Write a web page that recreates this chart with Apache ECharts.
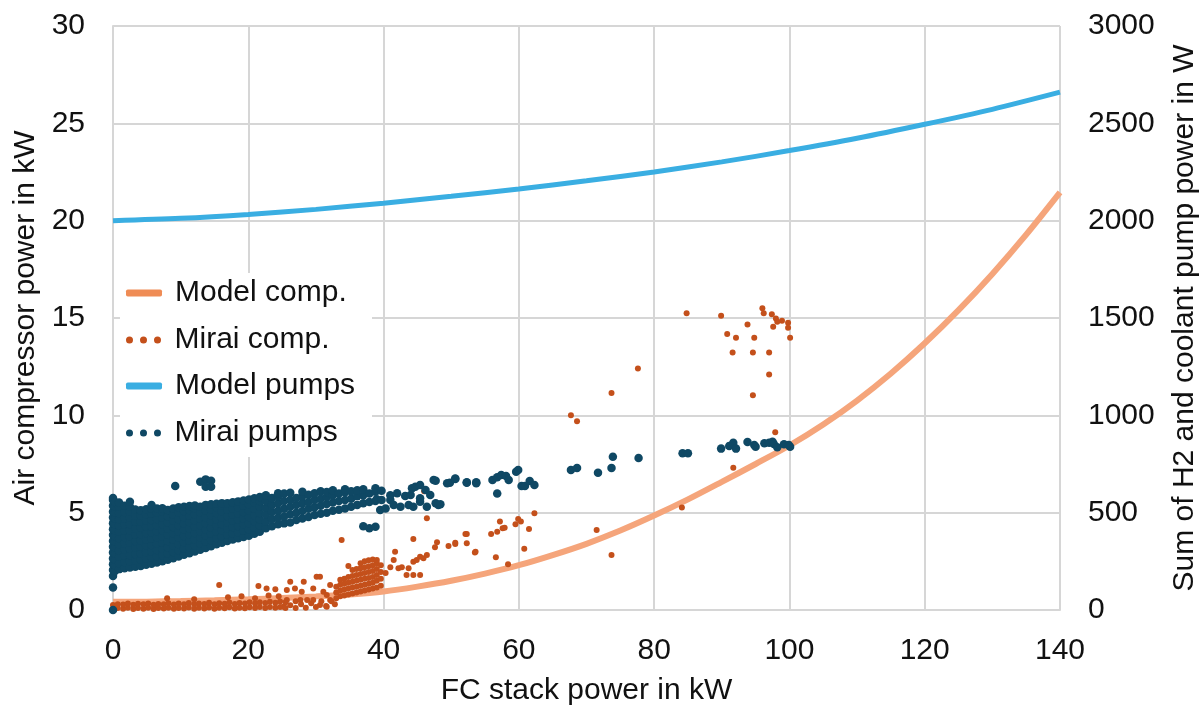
<!DOCTYPE html>
<html>
<head>
<meta charset="utf-8">
<script src="https://cdn.jsdelivr.net/npm/echarts@6/dist/echarts.min.js"></script>
<style>
html,body{margin:0;padding:0;background:#fff;}
#chart{width:1204px;height:709px;}
</style>
</head>
<body>
<div id="chart"></div>
<script>
// ---------- Data ----------
const xTicks = [0, 20, 40, 60, 80, 100, 120, 140];
const legendNames = ['Model comp.', 'Mirai comp.', 'Model pumps', 'Mirai pumps'];

// Model compressor power (kW) vs FC stack power (kW)
const modelCompX = [0, 5, 10, 15, 20, 25, 30, 35, 40, 45, 50, 55, 60, 65, 70, 75, 80, 85, 90, 95, 100, 105, 110, 115, 120, 125, 130, 135, 140];
const modelCompY = [0.42, 0.43, 0.46, 0.5, 0.55, 0.62, 0.7, 0.8, 0.95, 1.2, 1.5, 1.87, 2.3, 2.82, 3.4, 4.08, 4.85, 5.68, 6.58, 7.5, 8.45, 9.53, 10.76, 12.15, 13.7, 15.4, 17.26, 19.28, 21.45];

// Model pumps power (W)
const modelPumpX = [0, 10, 20, 30, 40, 50, 60, 70, 80, 90, 100, 110, 120, 130, 140];
const modelPumpY = [2000, 2012, 2032, 2058, 2090, 2125, 2163, 2205, 2250, 2302, 2360, 2423, 2495, 2572, 2660];

// Mirai pumps (W): each row = [FC power kW, readings in W ...]
const miraiPumpCols = [
  [0, 0, 115, 175, 205, 235, 265, 295, 325, 355, 385, 415, 445, 475, 505, 535, 565, 575],
  [0.3, 200, 230, 260, 290, 320, 350, 380, 410, 440, 470, 500, 530, 555],
  [0.9, 210, 242, 274, 306, 338, 370, 402, 434, 466, 498, 530, 552],
  [1.7, 215, 247, 279, 311, 343, 375, 407, 439, 471, 503, 535],
  [2.5, 218, 250, 282, 314, 346, 378, 410, 442, 474, 506, 530, 556],
  [3.3, 222, 255, 288, 321, 354, 387, 420, 453, 486, 516],
  [4.1, 226, 260, 292, 325, 358, 390, 422, 455, 487, 512],
  [4.9, 232, 264, 297, 330, 362, 395, 428, 460, 492, 518],
  [5.7, 238, 270, 302, 334, 366, 398, 430, 462, 494, 520, 539],
  [6.5, 244, 276, 308, 340, 372, 404, 436, 468, 500, 521],
  [7.3, 250, 282, 314, 346, 378, 410, 442, 474, 506, 523],
  [8.1, 258, 290, 322, 354, 386, 418, 450, 482, 514],
  [8.9, 266, 298, 330, 362, 394, 426, 458, 490, 522],
  [9.2, 637],
  [9.7, 275, 307, 339, 371, 403, 435, 467, 499, 528],
  [10.5, 284, 316, 348, 380, 412, 444, 476, 508, 530],
  [11.3, 292, 324, 356, 388, 420, 452, 484, 514, 534],
  [12.1, 300, 332, 364, 396, 428, 460, 492, 522, 537],
  [12.9, 309, 341, 373, 405, 437, 469, 501, 530, 659],
  [13.7, 318, 350, 382, 414, 446, 478, 510, 540, 671, 633],
  [14.5, 328, 360, 392, 424, 456, 488, 518, 543, 664, 633],
  [15.3, 338, 370, 402, 434, 466, 498, 528, 546],
  [16.1, 346, 378, 410, 442, 474, 506, 535, 549],
  [16.9, 355, 387, 419, 451, 483, 515, 548],
  [17.7, 362, 394, 426, 458, 490, 522, 553],
  [18.5, 368, 400, 432, 464, 496, 528, 558],
  [19.3, 375, 407, 439, 471, 503, 535, 562],
  [20.1, 382, 414, 446, 478, 510, 542, 567],
  [20.9, 392, 424, 456, 488, 520, 552, 574],
  [21.7, 402, 434, 466, 498, 530, 560, 580],
  [22.6, 420, 455, 490, 525, 560, 590],
  [23.5, 430, 468, 505, 540, 575],
  [24.4, 440, 475, 510, 548, 585, 600],
  [25.3, 445, 480, 520, 560, 598],
  [26.2, 450, 492, 530, 566, 602],
  [27.1, 462, 500, 540, 575],
  [28.0, 470, 508, 548, 585, 608],
  [28.9, 478, 520, 555, 592],
  [29.8, 488, 528, 565, 600],
  [30.7, 495, 535, 572, 610],
  [31.6, 500, 545, 580, 606],
  [32.5, 510, 552, 590, 615],
  [33.4, 515, 560, 598],
  [34.3, 522, 565, 605, 620],
  [35.2, 530, 572, 610],
  [36.1, 540, 585, 615],
  [37.0, 430, 548, 590, 620],
  [37.9, 420, 555, 599],
  [38.8, 428, 560, 608, 625],
  [39.0, 569],
  [39.5, 514],
  [39.7, 565, 612],
  [40.3, 522],
  [41.0, 565, 590],
  [41.5, 539],
  [42.0, 600],
  [42.5, 531],
  [43.2, 586],
  [43.7, 539],
  [44.0, 591],
  [44.2, 625],
  [44.4, 531],
  [44.7, 633],
  [45.4, 642, 556, 574],
  [46.2, 616],
  [46.4, 531],
  [46.9, 591],
  [47.4, 668],
  [47.7, 548, 664],
  [48.1, 539],
  [48.4, 543],
  [49.4, 651],
  [49.8, 654],
  [50.6, 673, 676],
  [52.3, 656, 654],
  [53.7, 656, 651],
  [56.1, 668],
  [56.8, 682, 599],
  [57.4, 693],
  [58.1, 688],
  [58.5, 668],
  [59.6, 710],
  [59.9, 719],
  [60.4, 637],
  [60.9, 637],
  [61.6, 663],
  [62.3, 642],
  [67.7, 719],
  [68.6, 729],
  [71.7, 705],
  [73.7, 729],
  [73.9, 787],
  [77.7, 781],
  [84.2, 805],
  [85.0, 805],
  [89.9, 829],
  [91.1, 842],
  [91.7, 859],
  [92.1, 829],
  [93.8, 863],
  [94.8, 847],
  [95.0, 839],
  [96.3, 856],
  [97.0, 859],
  [97.5, 864],
  [97.7, 853],
  [98.2, 836],
  [99.2, 851],
  [99.9, 847],
  [100.1, 839]
];

// Mirai compressor (kW): each row = [FC power kW, readings in kW ...]
const miraiCompCols = [
  [0, 0.04, 0.26], [0.7, 0.1, 0.3], [1.5, 0.06, 0.28], [2.2, 0.12, 0.33], [3.0, 0.05, 0.27],
  [3.7, 0.1, 0.32], [4.5, 0.07, 0.29], [5.2, 0.12, 0.34], [6.0, 0.05, 0.27], [6.7, 0.1, 0.31],
  [7.5, 0.08, 0.3], [8.0, 0.6], [8.2, 0.12, 0.35], [9.0, 0.06, 0.28], [9.7, 0.1, 0.33],
  [10.5, 0.08, 0.3], [11.2, 0.13, 0.36], [12.0, 0.06, 0.29, 0.55], [12.7, 0.11, 0.34],
  [13.5, 0.08, 0.31], [14.2, 0.13, 0.37], [15.0, 0.07, 0.3], [15.7, 0.12, 0.35, 1.28],
  [16.5, 0.09, 0.32], [17.0, 0.65], [17.2, 0.14, 0.38], [18.0, 0.08, 0.31], [18.7, 0.12, 0.36],
  [19.0, 0.7], [19.5, 0.09, 0.33], [20.2, 0.14, 0.4], [21.0, 0.1, 0.34, 0.6], [21.5, 1.23],
  [21.7, 0.15, 0.4], [22.5, 0.1, 0.36], [22.7, 1.11], [23.0, 0.75], [23.2, 0.16, 0.42],
  [24.0, 0.11, 0.37, 1.06], [24.5, 0.7], [24.7, 0.16, 0.44],
  [25.2, 0.17], [25.5, 0.1, 0.4], [25.7, 0.51, 1.03], [26.2, 1.45, 0.25], [26.9, 1.11],
  [27.0, 0.1, 0.45], [27.7, 0.51], [27.8, 0.3], [27.9, 0.94], [28.2, 1.45], [28.5, 0.12],
  [28.7, 0.51], [29.3, 0.35], [29.6, 1.11, 0.51], [30.0, 0.15], [30.1, 1.71],
  [30.6, 1.71, 0.26], [30.8, 0.45], [31.1, 0.94], [31.5, 0.2], [31.6, 0.77, 0.17],
  [32.1, 1.28, 0.51], [32.3, 0.45], [32.8, 0.3],
  [33.0, 0.6, 0.9, 1.2], [33.6, 0.7, 1.0, 1.3, 1.55], [33.8, 3.6],
  [34.2, 0.75, 1.05, 1.35, 1.6], [34.8, 0.8, 1.1, 1.4, 1.7, 2.26],
  [35.4, 0.85, 1.15, 1.45, 1.75, 2.05], [36.0, 0.9, 1.2, 1.5, 1.8, 2.1],
  [36.6, 0.95, 1.25, 1.55, 1.85, 2.15, 2.4], [37.2, 1.0, 1.3, 1.6, 1.9, 2.2, 2.5],
  [37.8, 1.05, 1.35, 1.65, 1.95, 2.25, 2.55], [38.4, 1.1, 1.4, 1.7, 2.0, 2.3, 2.6],
  [39.0, 1.15, 1.5, 1.8, 2.1, 2.4, 2.57], [39.6, 1.25, 1.6, 1.95, 2.3],
  [40.3, 1.9], [41.0, 2.2], [41.5, 2.57], [41.7, 2.99], [42.2, 2.14], [42.7, 2.19],
  [43.4, 1.8], [43.7, 2.14], [44.4, 2.48, 1.8, 3.65], [44.9, 2.57], [45.4, 2.74, 1.8],
  [45.9, 2.66], [46.0, 6.1], [46.4, 2.82, 4.71], [47.6, 3.22], [47.9, 3.48],
  [49.6, 3.29], [50.6, 3.39, 3.46], [52.1, 3.9], [52.3, 3.43, 3.9], [53.5, 2.96], [53.6, 2.99],
  [55.9, 3.9], [56.6, 2.71], [56.8, 4.02], [57.2, 4.54], [57.6, 4.2], [57.9, 4.23], [58.4, 2.35],
  [59.5, 4.4], [59.9, 4.67], [60.3, 4.54], [60.8, 3.15], [61.5, 4.16], [62.3, 4.97],
  [67.7, 10.0], [68.6, 9.69], [71.5, 4.11], [73.7, 2.82, 11.15], [77.6, 12.41],
  [84.1, 5.26], [84.8, 15.24], [89.9, 15.12], [90.8, 14.18], [91.6, 13.23], [91.7, 7.31],
  [92.1, 13.99], [93.8, 14.67], [94.6, 13.23, 11.03], [94.8, 13.99], [96.0, 15.5], [96.2, 15.24],
  [97.0, 13.23, 12.1], [97.4, 15.19], [97.6, 14.55], [97.9, 9.13], [98.0, 14.98], [98.2, 14.81],
  [98.9, 14.86], [99.8, 14.76, 14.5], [100.1, 13.99]
];

// ---------- Build chart ----------
function pairs(xs, ys) { return xs.map((x, i) => [x, ys[i]]); }
function flattenCols(cols) {
  const out = [];
  cols.forEach(c => { for (let i = 1; i < c.length; i++) out.push([c[0], c[i]]); });
  return out;
}

const FONT = "'Liberation Sans', Arial, Helvetica, sans-serif";
const FS = 30;
const TXT = '#111111';
const GRID_COLOR = '#d6d6d6';
const dotsIcon = 'path://M0,3a3,3 0 1,0 6,0a3,3 0 1,0 -6,0M12,3a3,3 0 1,0 6,0a3,3 0 1,0 -6,0M24,3a3,3 0 1,0 6,0a3,3 0 1,0 -6,0';
const legendIcons = ['roundRect', dotsIcon, 'roundRect', dotsIcon];
const legendTops = [278, 325, 371, 418];

const chart = echarts.init(document.getElementById('chart'), null, { renderer: 'canvas' });
chart.setOption({
  animation: false,
  backgroundColor: '#ffffff',
  textStyle: { fontFamily: FONT, color: TXT },
  grid: { left: 113, right: 144, top: 26, bottom: 99, containLabel: false, outerBoundsMode: 'none' },
  graphic: [{
    type: 'rect', z: 5, silent: true,
    shape: { x: 120, y: 273, width: 252, height: 184 },
    style: { fill: '#ffffff' }
  }],
  legend: legendNames.map((n, i) => ({
    orient: 'vertical', z: 6,
    left: 120, top: legendTops[i],
    padding: [0, 0, 0, 6],
    itemWidth: 36, itemHeight: 7,
    textStyle: { fontFamily: FONT, fontSize: FS, color: TXT, padding: [0, 0, 0, 8] },
    data: [{ name: n, icon: legendIcons[i] }]
  })),
  xAxis: {
    type: 'value', min: 0, max: 140, interval: 20,
    name: 'FC stack power in kW', nameLocation: 'middle', nameGap: 66,
    nameTextStyle: { fontFamily: FONT, fontSize: FS, color: TXT },
    axisLine: { show: true, lineStyle: { color: GRID_COLOR, width: 2 } },
    axisTick: { show: false },
    axisLabel: { fontFamily: FONT, fontSize: FS, color: TXT, margin: 26,
      formatter: v => xTicks.includes(v) ? String(v) : '' },
    splitLine: { show: true, lineStyle: { color: GRID_COLOR, width: 2 } }
  },
  yAxis: [
    {
      type: 'value', min: 0, max: 30, interval: 5, position: 'left',
      name: 'Air compressor power in kW', nameLocation: 'middle', nameGap: 64, nameRotate: 90,
      nameTextStyle: { fontFamily: FONT, fontSize: FS, color: TXT },
      axisLine: { show: true, lineStyle: { color: GRID_COLOR, width: 2 } },
      axisTick: { show: false },
      axisLabel: { fontFamily: FONT, fontSize: FS, color: TXT, margin: 28 },
      splitLine: { show: true, lineStyle: { color: GRID_COLOR, width: 2 } }
    },
    {
      type: 'value', min: 0, max: 3000, interval: 500, position: 'right',
      name: 'Sum of H2 and coolant pump power in W', nameLocation: 'middle', nameGap: 110, nameRotate: 90,
      nameTextStyle: { fontFamily: FONT, fontSize: FS, color: TXT },
      axisLine: { show: false },
      axisTick: { show: false },
      axisLabel: { fontFamily: FONT, fontSize: FS, color: TXT, margin: 28, formatter: v => String(v) },
      splitLine: { show: false }
    }
  ],
  series: [
    {
      name: 'Model comp.', type: 'line', yAxisIndex: 0, z: 2,
      data: pairs(modelCompX, modelCompY),
      smooth: 0.3, showSymbol: false,
      itemStyle: { color: '#EF8C55' },
      lineStyle: { color: '#F5A57B', width: 6 }
    },
    {
      name: 'Mirai comp.', type: 'scatter', yAxisIndex: 0, z: 3,
      data: flattenCols(miraiCompCols),
      symbolSize: 6,
      itemStyle: { color: '#C4501B', opacity: 1 }
    },
    {
      name: 'Model pumps', type: 'line', yAxisIndex: 1, z: 2,
      data: pairs(modelPumpX, modelPumpY),
      smooth: 0.3, showSymbol: false,
      itemStyle: { color: '#3AAEE2' },
      lineStyle: { color: '#3AAEE2', width: 5 }
    },
    {
      name: 'Mirai pumps', type: 'scatter', yAxisIndex: 1, z: 4,
      data: flattenCols(miraiPumpCols),
      symbolSize: 8.5,
      itemStyle: { color: '#0F4864', opacity: 1 }
    }
  ]
});
</script>
</body>
</html>
